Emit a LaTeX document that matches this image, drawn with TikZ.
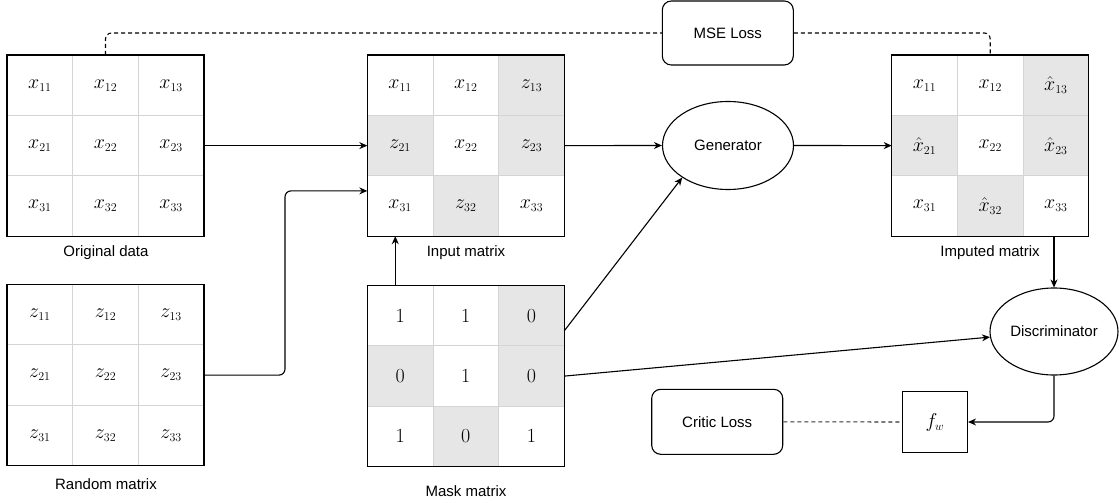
\RequirePackage{fix-cm}
\documentclass[tikz,border=0pt]{standalone}
\usepackage[no-math]{fontspec}
\setmainfont{Liberation Sans}
\usetikzlibrary{calc,arrows.meta,shapes.geometric}
\DeclareMathSizes{20}{20}{12}{8}
\definecolor{shade}{HTML}{E6E6E6}
\definecolor{gridc}{HTML}{D4D4D4}
\definecolor{dashc}{HTML}{333333}
\newcommand{\gridmat}[4]{%
  \foreach \ri/\ci/\tx/\fc in {#4}
    \node[cellbox, fill=\fc] (#1-\ri-\ci) at ({#2+(\ci-0.5)*65.667},{#3+(\ri-0.5)*60.4}) {$\tx$};
  \node[matbox] (#1) at ({#2+98.5},{#3+90.6}) {};
}
\begin{document}
\begin{tikzpicture}[x=1pt,y=-1pt,font=\fontsize{15}{18}\selectfont,
  cellbox/.style={draw=gridc, line width=0.9pt, minimum width=65.667pt, minimum height=60.4pt, inner sep=0pt, outer sep=0pt, font=\fontsize{20}{24}\selectfont},
  matbox/.style={draw=black, line width=1.3pt, minimum width=197pt, minimum height=181.2pt, inner sep=0pt, outer sep=0pt},
  lbl/.style={inner sep=0pt},
  ell/.style={draw, ellipse, line width=1.1pt, inner sep=0pt},
  lossbox/.style={draw, rounded corners=9pt, line width=1.1pt, minimum width=131pt, minimum height=64pt, inner sep=0pt},
  arr/.style={line width=1.1pt, -{Stealth[length=8pt,width=7pt]}},
  dashline/.style={line width=1.1pt, dash pattern=on 4pt off 3pt}]
\useasboundingbox (0,0) rectangle (1119,503);

% matrices
\gridmat{orig}{7}{55}{1/1/x_{11}/white,1/2/x_{12}/white,1/3/x_{13}/white,2/1/x_{21}/white,2/2/x_{22}/white,2/3/x_{23}/white,3/1/x_{31}/white,3/2/x_{32}/white,3/3/x_{33}/white}
\gridmat{inp}{367.3}{55}{1/1/x_{11}/white,1/2/x_{12}/white,1/3/z_{13}/shade,2/1/z_{21}/shade,2/2/x_{22}/white,2/3/z_{23}/shade,3/1/x_{31}/white,3/2/z_{32}/shade,3/3/x_{33}/white}
\gridmat{imp}{891.7}{55}{1/1/x_{11}/white,1/2/x_{12}/white,1/3/\hat{x}_{13}/shade,2/1/\hat{x}_{21}/shade,2/2/x_{22}/white,2/3/\hat{x}_{23}/shade,3/1/x_{31}/white,3/2/\hat{x}_{32}/shade,3/3/x_{33}/white}
\gridmat{rand}{7}{284.5}{1/1/z_{11}/white,1/2/z_{12}/white,1/3/z_{13}/white,2/1/z_{21}/white,2/2/z_{22}/white,2/3/z_{23}/white,3/1/z_{31}/white,3/2/z_{32}/white,3/3/z_{33}/white}
\gridmat{mask}{367.3}{285.5}{1/1/1/white,1/2/1/white,1/3/0/shade,2/1/0/shade,2/2/1/white,2/3/0/shade,3/1/1/white,3/2/0/shade,3/3/1/white}

% labels
\node[lbl] (origlbl) at (106,253) {Original data};
\node[lbl] (inplbl) at (466,253) {Input matrix};
\node[lbl] (implbl) at (990,253) {Imputed matrix};
\node[lbl] (randlbl) at (106,484) {Random matrix};
\node[lbl] (masklbl) at (466,491) {Mask matrix};

% other nodes
\node[ell, minimum width=131pt, minimum height=88pt] (gen) at (728,145.5) {Generator};
\node[ell, minimum width=128pt, minimum height=87pt] (disc) at (1054,331.5) {Discriminator};
\node[lossbox] (mse) at (727.8,33) {MSE Loss};
\node[lossbox, minimum height=65pt] (critic) at (717.2,421.8) {Critic Loss};
\node[draw, line width=1.1pt, minimum width=65pt, minimum height=61pt, inner sep=0pt, font=\fontsize{20}{24}\selectfont] (fw) at (935,422) {$f_w$};

% coordinates
\coordinate (inpin2) at ($(inp.north west)!0.75!(inp.south west)$);
\coordinate (masktop) at ($(mask.north west)!0.142!(mask.north east)$);
\coordinate (maskout1) at ($(mask.north east)!0.25!(mask.south east)$);
\coordinate (randbend) at ($(rand.east)+(81,0)$);

% connectors
\draw[arr] (orig.east) -- (inp.west);
\draw[arr, rounded corners=6pt] (rand.east) -- (randbend) |- (inpin2);
\draw[arr] (inp.east) -- (gen.west);
\draw[arr] (gen.east) -- (imp.west);
\draw[arr] (masktop) -- (masktop |- inp.south);
\draw[arr] (maskout1) -- (gen.215);
\draw[arr] (mask.east) -- (disc.185);
\draw[arr] (disc.north |- imp.south) -- (disc.north);
\draw[arr, rounded corners=6pt] (disc.south) |- (fw.east);
\draw[dashline, draw=dashc] (critic.east) -- (fw.west);
\draw[dashline, rounded corners=6pt] (orig.north) |- (mse.west);
\draw[dashline, rounded corners=6pt] (mse.east) -| (imp.north);
\end{tikzpicture}
\end{document}
